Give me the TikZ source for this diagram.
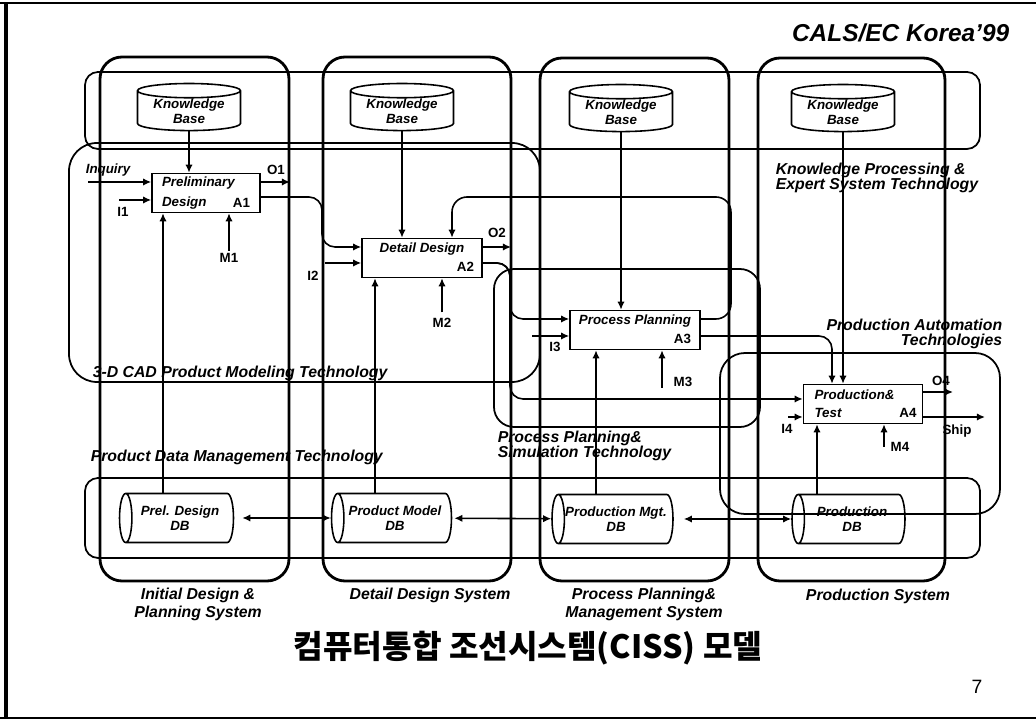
\documentclass[tikz,border=0pt]{standalone}
\usepackage{fontspec}
\setmainfont{Liberation Sans}
\newfontfamily\krfont{Noto Sans CJK KR}
\usetikzlibrary{shapes, calc, arrows, arrows.meta, positioning}

\begin{document}
\begin{tikzpicture}[x=0.02cm, y=-0.02cm, >={Latex[length=4.6pt, width=4.2pt]}, line width=0.9pt,
    small/.style={font=\fontsize{7.6}{8.6}\selectfont\bfseries\itshape, inner sep=0pt, align=center},
    tag/.style={font=\fontsize{7.6}{8.6}\selectfont\bfseries, inner sep=0pt},
    tech/.style={font=\fontsize{9}{8.7}\selectfont\bfseries\itshape, inner sep=0pt, align=left},
    sysname/.style={font=\fontsize{9}{10.2}\selectfont\bfseries\itshape, inner sep=0pt, align=center},
    act/.style={draw, fill=white, minimum height=0.78cm, inner sep=0pt},
    kbase/.style={cylinder, shape border rotate=90, draw, small, aspect=0.2, minimum width=2.06cm, minimum height=0.9cm},
    dbase/.style={cylinder, shape border rotate=180, draw, small, aspect=0.5, minimum width=0.98cm},
    sys/.style={line width=1.6pt, rounded corners=0.44cm},
    techbox/.style={line width=1pt, rounded corners=0.26cm},
    flow/.style={->, rounded corners=0.26cm}]
    \useasboundingbox (0,0) rectangle (1036,722);
    \draw[line width=1.2pt] (0,3) -- (1036,3);
    \draw[line width=1.2pt] (0,718) -- (1036,718);
    \draw[line width=2.3pt] (6,3) -- (6,718);

    \node[font=\fontsize{13.9}{15}\selectfont\bfseries\itshape, anchor=east, inner sep=0pt] (conf) at (1010,33) {CALS/EC Korea'99};

    \node[tech, anchor=west] (cadlbl) at (92,373) {3-D CAD Product Modeling Technology};
    \node[tech, anchor=west] (pdmlbl) at (90,457) {Product Data Management Technology};
    \node[tech, anchor=north west] (ppslbl) at (497,430) {Process Planning\&\\Simulation Technology};
    \node[tech, anchor=north east, align=right] (palbl) at (1003,318) {Production Automation\\Technologies};
    \node[tech, anchor=north west] (kplbl) at (775,162) {Knowledge Processing \&\\Expert System Technology};

    \node[kbase] (kb1) at (189,111) {Knowledge\\Base};
    \node[kbase] (kb2) at (402,111) {Knowledge\\Base};
    \node[kbase] (kb3) at (621,112) {Knowledge\\Base};
    \node[kbase] (kb4) at (843,112) {Knowledge\\Base};

    \node[act, minimum width=2.16cm] (a1) at (206,193) {};
    \node[act, minimum width=2.4cm] (a2) at (422,258) {};
    \node[act, minimum width=2.6cm] (a3) at (635,330) {};
    \node[act, minimum width=2.38cm] (a4) at (863,404) {};
    \node[small, anchor=west] (a1t) at ([shift={(10,-10)}]a1.west) {Preliminary};
    \node[small, anchor=west] (a1b) at ([shift={(10,10)}]a1.west) {Design};
    \node[tag, anchor=east] (a1n) at ([shift={(-10,10)}]a1.east) {A1};
    \node[small] (a2t) at ([shift={(0,-9)}]a2.center) {Detail Design};
    \node[tag, anchor=east] (a2n) at ([shift={(-8,9)}]a2.east) {A2};
    \node[small] (a3t) at ([shift={(0,-9)}]a3.center) {Process Planning};
    \node[tag, anchor=east] (a3n) at ([shift={(-9,9)}]a3.east) {A3};
    \node[small, anchor=west] (a4t) at ([shift={(11,-9)}]a4.west) {Production\&};
    \node[small, anchor=west] (a4b) at ([shift={(11,9)}]a4.west) {Test};
    \node[tag, anchor=east] (a4n) at ([shift={(-6,9)}]a4.east) {A4};

    \node[dbase, minimum height=2.28cm] (db1) at (180,518) {Prel. Design\\DB};
    \node[dbase, minimum height=2.4cm] (db2) at (395,518) {Product Model\\DB};
    \node[dbase, minimum height=2.42cm] (db3) at (616,519) {Production Mgt.\\DB};
    \node[dbase, minimum height=2.26cm] (db4) at (852,519) {Production\\DB};

    \node[sysname] (s1) at (198,604) {Initial Design \&\\Planning System};
    \node[sysname] (s2) at (430,595) {Detail Design System};
    \node[sysname] (s3) at (644,604) {Process Planning\&\\Management System};
    \node[sysname] (s4) at (878,596) {Production System};

    \node[font=\krfont\fontsize{18.3}{20}\selectfont\bfseries, inner sep=0pt] (title) at (528,648) {컴퓨터통합 조선시스템(CISS) 모델};
    \node[font=\fontsize{11}{12}\selectfont, inner sep=0pt] (pg) at (977,687) {7};

    \draw[techbox] (85,72) rectangle (980,149);
    \draw[techbox] (85,478) rectangle (980,558);
    \draw[techbox, rounded corners=0.56cm] (69,143) rectangle (540,382);
    \draw[techbox, rounded corners=0.4cm] (494,269) rectangle (760,427);
    \draw[techbox, rounded corners=0.5cm] (720,353) rectangle (1000,514);

    \draw[sys] (100,57) rectangle (289,581);
    \draw[sys] (323,57) rectangle (511,581);
    \draw[sys] (540,58) rectangle (729,581);
    \draw[sys] (758,58) rectangle (945,581);

    \draw[->] (kb1) -- (kb1 |- a1.north);
    \draw[->] (kb2) -- (kb2 |- a2.north);
    \draw[->] (kb3) -- (kb3 |- a3.north);
    \draw[->] (kb4) -- (kb4 |- a4.north);

    \draw[->] (163,0 |- db1.north) -- (163,0 |- a1.south);
    \draw[->] (375,0 |- db2.north) -- (375,0 |- a2.south);
    \draw[->] (596,0 |- db3.north) -- (596,0 |- a3.south);
    \draw[->] (817,0 |- db4.north) -- (817,0 |- a4.south);

    \draw[<->, shorten <=0.16cm] (db1) -- (db2);
    \draw[<->, shorten <=0.04cm] (db2) -- (db3);
    \draw[<->, shorten <=0.2cm] (db3) -- (db4);

    \coordinate (inq) at (88,182);
    \node[small, anchor=south west] (inqlbl) at (85,177) {Inquiry};
    \draw[->] (inq) -- (inq -| a1.west);
    \coordinate (i1a) at (119,200);
    \node[tag] (i1) at (123,212) {I1};
    \draw[->] (i1a) -- (i1a -| a1.west);
    \coordinate (i2a) at (325,263);
    \node[tag] (i2) at (313,276) {I2};
    \draw[->] (i2a) -- (i2a -| a2.west);
    \coordinate (i3a) at (532,336);
    \node[tag] (i3) at (555,347) {I3};
    \draw[->] (i3a) -- (i3a -| a3.west);
    \coordinate (i4a) at (788,417);
    \node[tag] (i4) at (787,429) {I4};
    \draw[->] (i4a) -- (i4a -| a4.west);

    \node[tag] (m1) at (229,258) {M1};
    \draw[->, shorten <=1pt] (m1) -- (m1 |- a1.south);
    \node[tag] (m2) at (442,323) {M2};
    \draw[->, shorten <=3pt] (m2) -- (m2 |- a2.south);
    \node[tag] (m3) at (683,382) {M3};
    \draw[->] (662,0 |- m3.south) -- (662,0 |- a3.south);
    \node[tag] (m4) at (900,447) {M4};
    \draw[->] (884,0 |- m4.center) -- (884,0 |- a4.south);

    \coordinate (o1a) at (290,182);
    \node[tag] (o1) at (276,170) {O1};
    \draw[->] (a1.east |- o1a) -- (o1a);
    \coordinate (o2a) at (511,247);
    \node[tag] (o2) at (497,233) {O2};
    \draw[->] (a2.east |- o2a) -- (o2a);
    \coordinate (o4a) at (953,392);
    \node[tag] (o4) at (941,381) {O4};
    \draw[->] (a4.east |- o4a) -- (o4a);
    \coordinate (ship) at (985,417);
    \node[tag] (shiplbl) at (957,431) {Ship};
    \draw[->] (a4.east |- ship) -- (ship);

    \draw[flow] (a1.east |- 0,197) -- (322,197) -- (322,247) -- (a2.west |- 0,247);
    \draw[flow] (a2.east |- 0,263) -- (510,263) -- (510,319) -- (a3.west |- 0,319);
    \draw[flow] (a2.east |- 0,263) -- (510,263) -- (510,399) -- (a4.west |- 0,399);
    \draw[flow, rounded corners=0.3cm] (a3.east |- 0,319) -- (731,319) -- (731,197) -- (452,197) -- (452,0 |- a2.north);
    \draw[flow] (a3.east |- 0,336) -- (832,336) -- (832,0 |- a4.north);
\end{tikzpicture}
\end{document}
